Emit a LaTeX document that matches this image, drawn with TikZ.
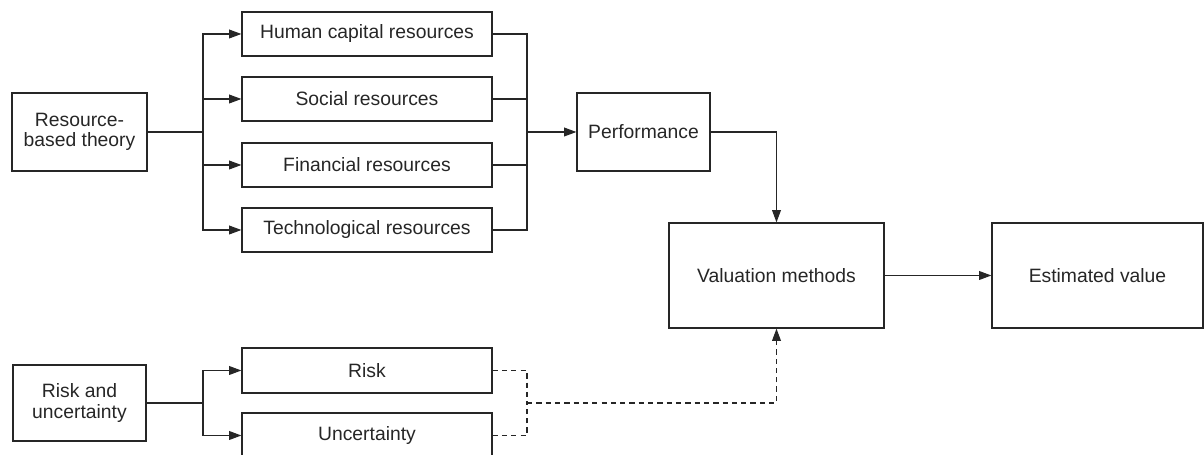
\documentclass[tikz,border=0pt]{standalone}
\usepackage{fontspec}
\setmainfont{Liberation Sans}
\usetikzlibrary{arrows.meta}

\tikzstyle{box}=[draw, line width=0.7pt, inner sep=0pt, align=center, font=\fontsize{11}{11.4}\selectfont]
\tikzstyle{res}=[box, minimum width=5cm, minimum height=0.88cm]
\tikzstyle{arr}=[-{Triangle[length=7pt,width=5pt]}]
\tikzstyle{link}=[line width=0.65pt]
\tikzstyle{weak}=[link, dash pattern=on 3pt off 2.3pt]

\begin{document}
\begin{tikzpicture}[x=0.02cm, y=-0.02cm, color=black!85]
\useasboundingbox (0,0) rectangle (1204,455);

% sources
\node[box, minimum width=2.7cm, minimum height=1.56cm] (rbt) at (79.5,132) {Resource-\\based theory};
\node[box, minimum width=2.66cm, minimum height=1.52cm] (ru) at (79.5,403) {Risk and\\uncertainty};

% resources
\node[res] (hum) at (367,34) {Human capital resources};
\node[res] (soc) at (367,99) {Social resources};
\node[res] (fin) at (367,165) {Financial resources};
\node[res] (tec) at (367,230) {Technological resources};

\node[res, minimum height=0.9cm] (risk) at (367,370.5) {Risk};
\node[res, minimum height=0.9cm] (unc) at (367,435.5) {Uncertainty};

% outcome
\node[box, minimum width=2.66cm, minimum height=1.56cm] (perf) at (643.5,132) {Performance};
\node[box, minimum width=4.3cm, minimum height=2.1cm] (val) at (776.5,275.5) {Valuation methods};
\node[box, minimum width=4.22cm, minimum height=2.1cm] (est) at (1097.5,275.5) {Estimated value};

\coordinate (split) at (203,132);
\coordinate (merge) at (527,132);
\coordinate (split2) at (203,403);
\coordinate (merge2) at (527,403);

\draw[link] (rbt) -- (split);
\foreach \n in {hum,soc,fin,tec} {
  \draw[link, arr] (split) |- (\n);
  \draw[link] (\n) -| (merge);
}
\draw[link, arr] (merge) -- (perf);
\draw[link, arr] (perf) -| (val);
\draw[link, arr] (val) -- (est);

\draw[link] (ru) -- (split2);
\foreach \n in {risk,unc} {
  \draw[link, arr] (split2) |- (\n);
  \draw[weak] (\n) -| (merge2);
}
\draw[weak, arr] (merge2) -| (val);
\end{tikzpicture}
\end{document}
